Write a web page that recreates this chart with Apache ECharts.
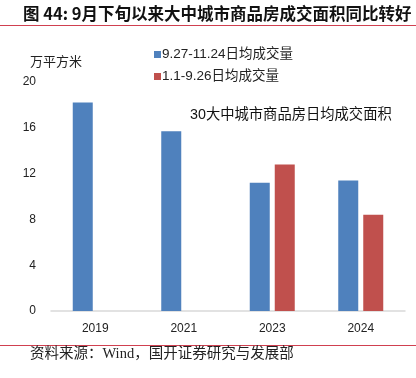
<!DOCTYPE html>
<html>
<head>
<meta charset="utf-8">
<script src="https://cdn.jsdelivr.net/npm/echarts@6/dist/echarts.min.js"></script>
<style>
html,body{margin:0;padding:0;background:#fff;}
#chart{width:416px;height:378px;}
</style>
</head>
<body>
<div id="chart"></div>
<script>
var categories = ['2019', '2021', '2023', '2024'];
var seriesNames = ['9.27-11.24日均成交量', '1.1-9.26日均成交量'];
var recentValues = [18.2, 15.7, 11.2, 11.4];
var earlierValues = [null, null, 12.8, 8.4];
var yTicks = [0, 4, 8, 12, 16, 20];
var titleText = '图 44: 9月下旬以来大中城市商品房成交面积同比转好';
var unitText = '万平方米';
var noteText = '30大中城市商品房日均成交面积';
var sourceText = '资料来源：Wind，国开证券研究与发展部';

var latin = '"Liberation Sans", "Noto Sans CJK SC", sans-serif';
var chart = echarts.init(document.getElementById('chart'), null, {renderer: 'canvas'});
chart.setOption({
  animation: false,
  backgroundColor: '#ffffff',
  textStyle: {fontFamily: latin},
  grid: {left: 51, right: 11, top: 82, bottom: 67, containLabel: false},
  legend: {
    orient: 'vertical',
    left: 149,
    top: 42,
    icon: 'rect',
    itemWidth: 7,
    itemHeight: 7,
    itemGap: 7,
    data: seriesNames,
    textStyle: {fontSize: 13.5, color: '#222', fontFamily: latin, lineHeight: 15, padding: [0,0,0,-4]}
  },
  xAxis: {
    type: 'category',
    data: categories,
    axisLine: {lineStyle: {color: '#d9d9d9', width: 1.5}},
    axisTick: {show: false},
    axisLabel: {fontSize: 12, color: '#222', margin: 12, fontFamily: latin}
  },
  yAxis: {
    type: 'value',
    min: yTicks[0],
    max: yTicks[yTicks.length - 1],
    interval: yTicks[1] - yTicks[0],
    axisLine: {show: false},
    axisTick: {show: false},
    splitLine: {show: false},
    axisLabel: {fontSize: 12, color: '#222', margin: 15, fontFamily: latin}
  },
  series: [
    {
      name: seriesNames[0],
      type: 'bar',
      data: recentValues,
      barWidth: 20,
      barGap: '25%',
      itemStyle: {color: '#4f81bd'}
    },
    {
      name: seriesNames[1],
      type: 'bar',
      data: earlierValues,
      barWidth: 20,
      itemStyle: {color: '#c0504d'}
    }
  ],
  graphic: [
    {type: 'text', left: 23, top: 5, style: {text: titleText, fontSize: 16.5, fontWeight: 'bold', fill: '#111', fontFamily: '"Noto Sans CJK SC", sans-serif'}},
    {type: 'line', shape: {x1: 0, y1: 25.5, x2: 416, y2: 25.5}, style: {stroke: '#d04050', lineWidth: 1}},
    {type: 'text', left: 30, top: 55, style: {text: unitText, fontSize: 13, fill: '#222', fontFamily: '"Noto Sans CJK SC", sans-serif'}},
    {type: 'text', left: 190, top: 108, style: {text: noteText, fontSize: 14.3, fill: '#111', fontFamily: latin}},
    {type: 'line', shape: {x1: 0, y1: 345.5, x2: 416, y2: 345.5}, style: {stroke: '#d04050', lineWidth: 1}},
    {type: 'text', left: 30, top: 347, style: {text: sourceText, fontSize: 14.5, fill: '#222', fontFamily: '"Liberation Serif", "Noto Sans CJK SC", serif'}}
  ]
});
</script>
</body>
</html>
